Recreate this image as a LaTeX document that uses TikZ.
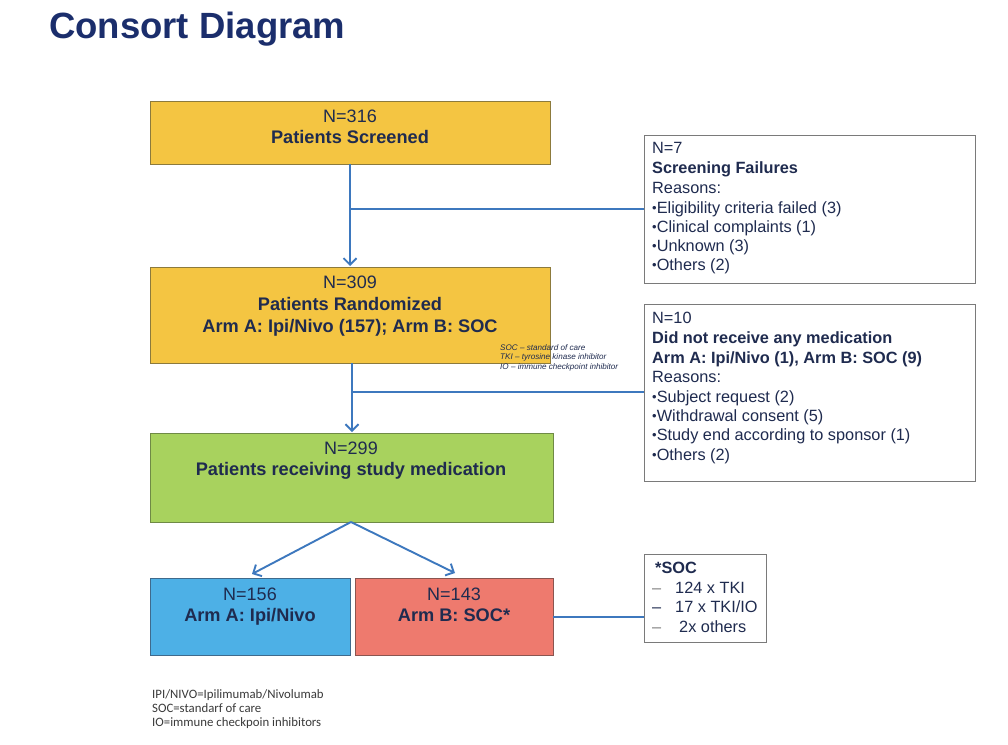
\documentclass[tikz,border=0pt]{standalone}
\usepackage{fontspec}
\setmainfont{Liberation Sans}
\newfontfamily\notefont{Carlito}
\usetikzlibrary{arrows.meta}
\definecolor{titleblue}{HTML}{1B2E6C}
\definecolor{txt}{HTML}{1F2B4F}
\definecolor{arrowc}{HTML}{3D78BE}
\definecolor{yel}{HTML}{F4C542}
\definecolor{yelb}{HTML}{8C7A3C}
\definecolor{grn}{HTML}{A8D25E}
\definecolor{grnb}{HTML}{6F8A45}
\definecolor{blu}{HTML}{4DB0E6}
\definecolor{blub}{HTML}{3F6A8C}
\definecolor{sal}{HTML}{EE7A6E}
\definecolor{salb}{HTML}{8A5550}
\definecolor{gbord}{HTML}{7A7A7A}
\definecolor{fgray}{HTML}{3A3A3A}
\tikzset{
  sidebox/.style={draw=gbord, line width=1pt, fill=white, inner sep=0pt},
  t/.style={anchor=base, text=txt, font=\fontsize{18}{21}\selectfont, inner sep=0pt},
  tb/.style={anchor=base, text=txt, font=\fontsize{18.2}{21}\selectfont\bfseries, inner sep=0pt},
  lt/.style={anchor=base west, text=txt, font=\fontsize{16.3}{19}\selectfont, inner sep=0pt},
  ltb/.style={anchor=base west, text=txt, font=\fontsize{16.3}{19}\selectfont\bfseries, inner sep=0pt},
  conn/.style={draw=arrowc, line width=1.9pt},
  arr/.style={conn, -{Straight Barb[length=6.5pt,width=13pt,line width=1.9pt]}},
  note/.style={anchor=base west, text=txt, font=\fontsize{8.1}{9}\selectfont\itshape, inner sep=0pt},
  foot/.style={anchor=base west, text=fgray, font=\notefont\fontsize{12.8}{14}\selectfont, inner sep=0pt},
}
\newcommand{\blt}{{\fontsize{13}{13}\selectfont\raisebox{1pt}{•}}}
\begin{document}
\begin{tikzpicture}[x=1pt,y=-1pt]
\useasboundingbox[fill=white] (0,0) rectangle (1008,744);
% title
\node[anchor=base west, inner sep=0pt, text=titleblue, font=\fontsize{36.5}{40}\selectfont\bfseries] (title) at (49,38) {Consort Diagram};

% main boxes
\draw[fill=yel, draw=yelb, line width=0.8pt] (150,101) rectangle (550,164);
\coordinate (b1bot) at (350,164);
\node[t] (n316) at (350,122) {N=316};
\node[tb] (scr) at (350,143) {Patients Screened};

\draw[fill=yel, draw=yelb, line width=0.8pt] (150,267) rectangle (550,363);
\coordinate (b2top) at (350,266);
\coordinate (b2bot) at (352,363);
\node[t] (n309) at (350,288) {N=309};
\node[tb] (rand) at (350,310) {Patients Randomized};
\node[tb] (arms) at (350,332) {Arm A: Ipi/Nivo (157); Arm B: SOC};

\node[note] (note1) at (500,350) {SOC -- standard of care};
\node[note] (note2) at (500,359.5) {TKI -- tyrosine kinase inhibitor};
\node[note] (note3) at (500,369) {IO -- immune checkpoint inhibitor};

\draw[fill=grn, draw=grnb, line width=0.8pt] (150,433) rectangle (553,522);
\coordinate (b3top) at (352,432);
\coordinate (b3bot) at (351,522);
\node[t] (n299) at (351,454) {N=299};
\node[tb] (recv) at (351,475) {Patients receiving study medication};

\draw[fill=blu, draw=blub, line width=0.8pt] (150,578) rectangle (350,655);
\node[t] (n156) at (250,600) {N=156};
\node[tb] (armA) at (250,621) {Arm A: Ipi/Nivo};
\coordinate (b4top) at (252,574);

\draw[fill=sal, draw=salb, line width=0.8pt] (355,578) rectangle (553,655);
\node[t] (n143) at (454,600) {N=143};
\node[tb] (armB) at (454,621) {Arm B: SOC*};
\coordinate (b5top) at (455,573);
\coordinate (b5right) at (553,617);

% side boxes
\draw[sidebox] (644,135) rectangle (975,283);
\coordinate (s1left) at (644,209);
\node[lt] (s1a) at (652,153) {N=7};
\node[ltb] (s1b) at (652,173) {Screening Failures};
\node[lt] (s1c) at (652,193) {Reasons:};
\node[lt] (s1d) at (652,213) {\blt Eligibility criteria failed (3)};
\node[lt] (s1e) at (652,232) {\blt Clinical complaints (1)};
\node[lt] (s1f) at (652,251) {\blt Unknown (3)};
\node[lt] (s1g) at (652,270) {\blt Others (2)};

\draw[sidebox] (644,304) rectangle (975,481);
\coordinate (s2left) at (644,392);
\node[lt] (s2a) at (652,323) {N=10};
\node[ltb] (s2b) at (652,343) {Did not receive any medication};
\node[ltb] (s2c) at (652,363) {Arm A: Ipi/Nivo (1), Arm B: SOC (9)};
\node[lt] (s2d) at (652,382) {Reasons:};
\node[lt] (s2e) at (652,402) {\blt Subject request (2)};
\node[lt] (s2f) at (652,421) {\blt Withdrawal consent (5)};
\node[lt] (s2g) at (652,440) {\blt Study end according to sponsor (1)};
\node[lt] (s2h) at (652,460) {\blt Others (2)};

\draw[sidebox] (644,554) rectangle (766,642);
\coordinate (s3left) at (644,617);
\node[ltb] (s3a) at (655,573) {*SOC};
\node[lt, text=gray] (s3d1) at (652,593) {--};
\node[lt] (s3b) at (675,593) {124 x TKI};
\node[lt] (s3d2) at (652,612) {--};
\node[lt] (s3c) at (675,612) {17 x TKI/IO};
\node[lt, text=gray] (s3d3) at (652,632) {--};
\node[lt] (s3e) at (679,632) {2x others};

% connectors
\coordinate (j1) at (350,209);
\coordinate (j2) at (352,392);
\draw[arr] (b1bot) -- (b2top);
\draw[conn, line width=1.4pt] (j1) -- (s1left);
\draw[arr] (b2bot) -- (b3top);
\draw[conn, line width=1.4pt] (j2) -- (s2left);
\draw[arr] (b3bot) -- (b4top);
\draw[arr] (b3bot) -- (b5top);
\draw[conn, line width=1.4pt] (b5right) -- (s3left);

% footnote
\node[foot] (f1) at (152,698) {IPI/NIVO=Ipilimumab/Nivolumab};
\node[foot] (f2) at (152,712) {SOC=standarf of care};
\node[foot] (f3) at (152,726) {IO=immune checkpoin inhibitors};
\end{tikzpicture}
\end{document}
